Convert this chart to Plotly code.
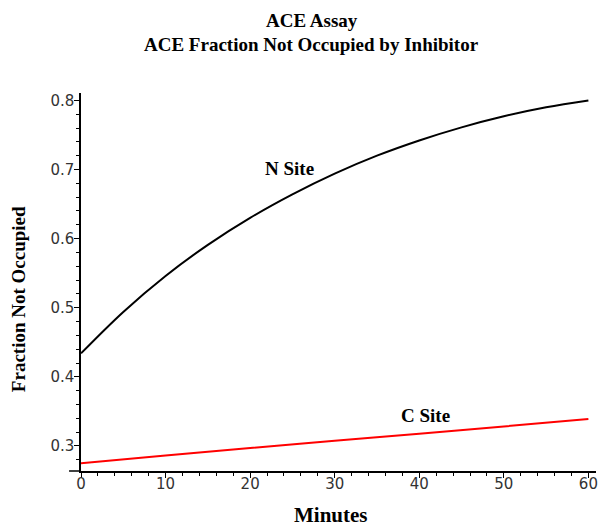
import plotly.graph_objects as go

# ---- data ----
minutes_n = [0, 5, 10, 15, 20, 25, 30, 35, 40, 45, 50, 55, 60]
n_site = [0.434, 0.494, 0.546, 0.591, 0.630, 0.664, 0.694, 0.720, 0.742, 0.761, 0.777, 0.790, 0.800]

minutes_c = [0, 10, 20, 30, 40, 50, 60]
c_site = [0.275, 0.2862, 0.2970, 0.3075, 0.3178, 0.3283, 0.3390]

x_ticks = [0, 10, 20, 30, 40, 50, 60]
y_ticks = [0.3, 0.4, 0.5, 0.6, 0.7, 0.8]

title_1 = "ACE Assay"
title_2 = "ACE Fraction Not Occupied by Inhibitor"
x_title = "Minutes"
y_title = "Fraction Not Occupied"
label_n = "N Site"
label_c = "C Site"
label_n_pos = (24.7, 0.701)
label_c_pos = (40.7, 0.3434)

serif = "Liberation Serif, Times New Roman, serif"
tickfont = dict(family="DejaVu Sans, Arial, sans-serif", size=15, color="#333333")

fig = go.Figure()
fig.add_trace(go.Scatter(x=minutes_n, y=n_site, mode="lines",
                         line=dict(color="black", width=2, shape="spline"),
                         showlegend=False, hoverinfo="skip"))
fig.add_trace(go.Scatter(x=minutes_c, y=c_site, mode="lines",
                         line=dict(color="#ff0000", width=2, shape="spline"),
                         showlegend=False, hoverinfo="skip"))

fig.update_layout(
    width=598, height=527,
    margin=dict(l=80.5, r=0, t=93.3, b=56),
    paper_bgcolor="white", plot_bgcolor="white",
    xaxis=dict(range=[0, 60.9], tickvals=x_ticks, ticktext=[str(v) for v in x_ticks],
               showgrid=False, zeroline=False, showline=True, linecolor="black", linewidth=1.5,
               ticks="outside", ticklen=5, tickwidth=1.2, tickcolor="black", tickfont=tickfont,
               ticklabeloverflow="allow", ticklabelstandoff=-7,
               minor=dict(dtick=2, tick0=0, ticks="outside", ticklen=3, tickcolor="black", tickwidth=1.2, showgrid=False)),
    yaxis=dict(range=[0.2638, 0.8107], tickvals=y_ticks, ticktext=[f"{v:.1f}" for v in y_ticks],
               showgrid=False, zeroline=False, showline=True, linecolor="black", linewidth=1.5,
               ticks="outside", ticklen=5, tickwidth=1.2, tickcolor="black", tickfont=tickfont,
               ticklabelstandoff=-3,
               minor=dict(dtick=0.02, tick0=0.3, ticks="outside", ticklen=3, tickcolor="black", tickwidth=1.2, showgrid=False)),
)

# extension of the x-axis line to the left of the y-axis
fig.add_shape(type="line", xref="paper", yref="paper", x0=-0.0232, x1=0, y0=0, y1=0,
              line=dict(color="black", width=1.5))

ann_font = dict(family=serif, size=19, color="black")
fig.add_annotation(text=f"<b>{title_1}</b>", xref="paper", yref="paper", x=0.448, y=1.1914,
                   xanchor="center", yanchor="middle", showarrow=False, font=ann_font)
fig.add_annotation(text=f"<b>{title_2}</b>", xref="paper", yref="paper", x=0.448, y=1.1279,
                   xanchor="center", yanchor="middle", showarrow=False, font=ann_font)
fig.add_annotation(text=f"<b>{x_title}</b>", xref="paper", yref="paper", x=0.4854, y=-0.1165,
                   xanchor="center", yanchor="middle", showarrow=False,
                   font=dict(family=serif, size=21, color="black"))
fig.add_annotation(text=f"<b>{y_title}</b>", xref="paper", yref="paper", x=-0.1198, y=0.4554,
                   xanchor="center", yanchor="middle", showarrow=False, textangle=-90, font=ann_font)
fig.add_annotation(text=f"<b>{label_n}</b>", x=label_n_pos[0], y=label_n_pos[1],
                   xanchor="center", yanchor="middle", showarrow=False, font=ann_font)
fig.add_annotation(text=f"<b>{label_c}</b>", x=label_c_pos[0], y=label_c_pos[1],
                   xanchor="center", yanchor="middle", showarrow=False, font=ann_font)

fig.write_html("out.html", config={"displayModeBar": False},
               post_script="document.body.style.margin='0';document.body.style.padding='0';")
